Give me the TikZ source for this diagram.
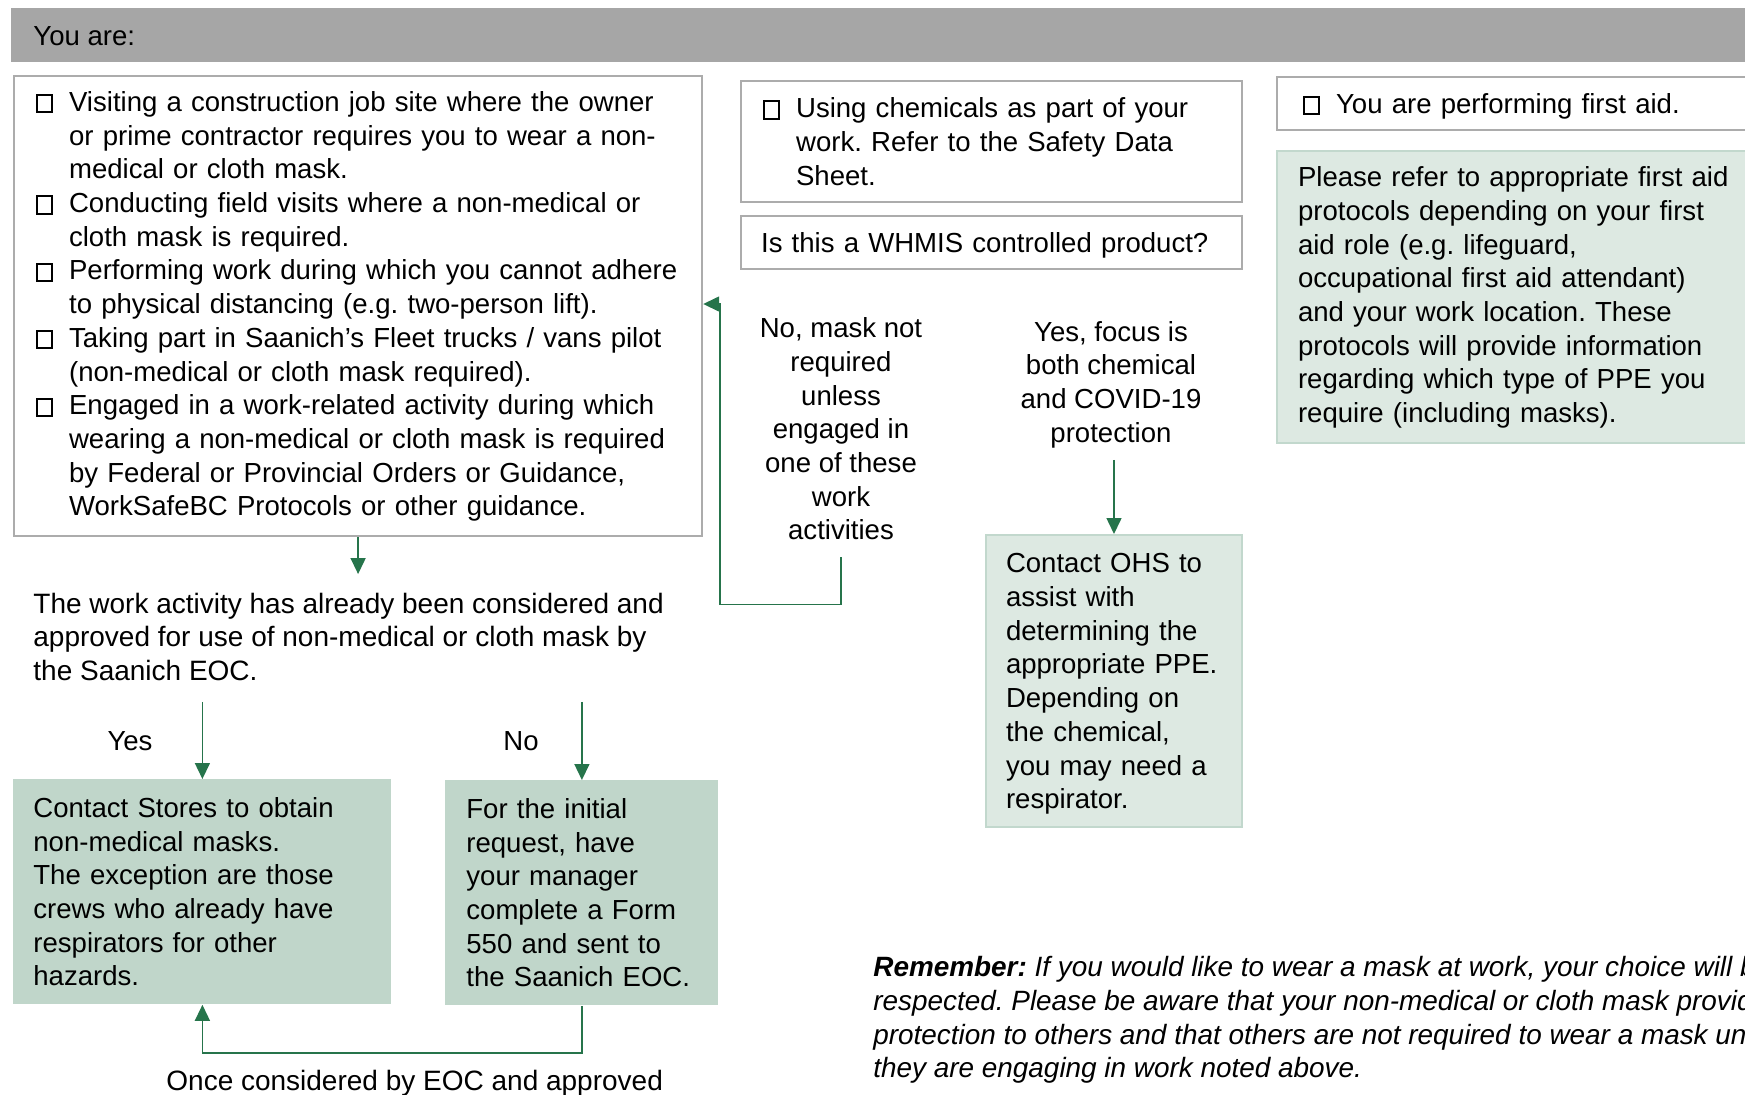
\documentclass[tikz,border=0pt]{standalone}
\usepackage{fontspec}
\setmainfont{Liberation Sans}
\usetikzlibrary{arrows.meta}
\frenchspacing

\definecolor{hdrgray}{RGB}{166,166,166}
\definecolor{boxgray}{RGB}{172,172,172}
\definecolor{arrowgreen}{RGB}{38,116,75}
\definecolor{sagegreen}{RGB}{192,214,202}
\definecolor{palegreen}{RGB}{221,233,226}
\definecolor{paleedge}{RGB}{194,216,205}

\newcommand{\chk}{{\setlength{\fboxrule}{1pt}\setlength{\fboxsep}{0pt}\fbox{\rule{0pt}{7.6pt}\rule{6.4pt}{0pt}}}}
\newcommand{\blocktext}[2][-1.5pt]{\raisebox{#1}[\height][\depth]{\begin{tabular}{@{}l@{}}#2\end{tabular}}}
\newcommand{\centerlines}[2][-1.5pt]{\raisebox{#1}[\height][\depth]{\begin{tabular}{@{}c@{}}#2\end{tabular}}}
\newcommand{\checklines}[2][-1.5pt]{\raisebox{#1}[\height][\depth]{\begin{tabular}{@{}p{16.5pt}@{}l@{}}#2\end{tabular}}}

\tikzset{
  every node/.style={font=\fontsize{13.78}{16.85}\selectfont, inner sep=0pt},
  bigtext/.style={font=\fontsize{14}{16.85}\selectfont},
  whitebox/.style={draw=boxgray, line width=1.1pt, anchor=north west, align=left},
  greenbox/.style={fill=sagegreen, anchor=north west, align=left},
  palebox/.style={draw=paleedge, line width=1pt, fill=palegreen, anchor=north west, align=left},
  arrow/.style={draw=arrowgreen, line width=0.75pt, -{Triangle[width=7.5pt,length=8pt]}},
}

\begin{document}
\begin{tikzpicture}[x=0.5pt, y=-0.5pt]
      \useasboundingbox (0,0) rectangle (1745,1094);
      \clip (0,0) rectangle (1745,1094);

      %en-tete
      \fill[hdrgray] (11,8) rectangle (1760,62);
      \node[anchor=west] (youare) at (33,36) {\blocktext{You are:}};

      %colonne gauche
      \node[whitebox, minimum width=344pt, minimum height=230pt, text width=322pt, inner xsep=11pt] (visiting) at (13,75) {\checklines[-0.4pt]{%
        \chk & Visiting a construction job site where the owner\\
             & or prime contractor requires you to wear a non-\\
             & medical or cloth mask.\\
        \chk & Conducting field visits where a non-medical or\\
             & cloth mask is required.\\
        \chk & Performing work during which you cannot adhere\\
             & to physical distancing (e.g. two-person lift).\\
        \chk & Taking part in Saanich’s Fleet trucks / vans pilot\\
             & (non-medical or cloth mask required).\\
        \chk & Engaged in a work-related activity during which\\
             & wearing a non-medical or cloth mask is required\\
             & by Federal or Provincial Orders or Guidance,\\
             & WorkSafeBC Protocols or other guidance.}};

      \node[bigtext, anchor=west] (approved) at (33,637) {\blocktext{The work activity has already been considered and\\approved for use of non-medical or cloth mask by\\the Saanich EOC.}};

      \node (yes) at (130,741) {\blocktext{Yes}};
      \node (no) at (521,741) {\blocktext{No}};

      \node[greenbox, minimum width=189pt, minimum height=112.5pt, text width=169pt, inner xsep=10pt] (stores) at (13,779) {\blocktext{Contact Stores to obtain\\non-medical masks.\\The exception are those\\crews who already have\\respirators for other\\hazards.}};
      \node[greenbox, minimum width=136.5pt, minimum height=112.5pt, text width=115.5pt, inner xsep=10.5pt] (form) at (445,780) {\blocktext{For the initial\\request, have\\your manager\\complete a Form\\550 and sent to\\the Saanich EOC.}};

      \node[bigtext, anchor=west] (once) at (166,1081) {\blocktext{Once considered by EOC and approved}};

      %fleches gauche
      \draw[arrow, shorten >=6pt] (visiting.south) -- (visiting.south |- approved.north);
      \draw[arrow, shorten <=7pt] (stores.north |- approved.south) -- (stores.north);
      \draw[arrow, shorten <=7pt] (form.north |- approved.south) -- (form.north);
      \draw[arrow] (form.south) -- ++(0,47) -| (stores.south);

      %colonne du milieu
      \node[whitebox, minimum width=250.5pt, minimum height=60.5pt, text width=228.5pt, inner xsep=11pt] (chem) at (740,80) {\checklines{%
        \chk & Using chemicals as part of your\\
             & work. Refer to the Safety Data\\
             & Sheet.}};
      \node[whitebox, minimum width=250.5pt, minimum height=26.5pt, text width=230.5pt, inner xsep=10pt] (whmis) at (740,215) {\blocktext{Is this a WHMIS controlled product?}};

      \node (nomask) at (841,429) {\centerlines{No, mask not\\required\\unless\\engaged in\\one of these\\work\\activities}};
      \node (focus) at (1111,382) {\centerlines{Yes, focus is\\both chemical\\and COVID-19\\protection}};

      \node[palebox, minimum width=128pt, minimum height=146pt, text width=108pt, inner xsep=10pt] (ohs) at (985,534) {\blocktext{Contact OHS to\\assist with\\determining the\\appropriate PPE.\\Depending on\\the chemical,\\you may need a\\respirator.}};

      \draw[arrow, shorten <=5pt] (nomask.south) -- ++(0,57) -| (720,304) -- (visiting.east |- 0,304);
      \draw[arrow, shorten <=5pt] (ohs.north |- focus.south) -- (ohs.north);

      %colonne droite
      \node[whitebox, minimum width=260pt, minimum height=26.5pt, text width=234pt, inner xsep=13pt] (firstaid) at (1276,76) {\checklines{\chk & You are performing first aid.}};
      \node[palebox, minimum width=260pt, minimum height=146pt, text width=239pt, inner xsep=10.5pt] (faguide) at (1276,150) {\blocktext[-0.4pt]{Please refer to appropriate first aid\\protocols depending on your first\\aid role (e.g. lifeguard,\\occupational first aid attendant)\\and your work location. These\\protocols will provide information\\regarding which type of PPE you\\require (including masks).}};

      %rappel
      \node[anchor=west, font=\fontsize{13.95}{16.85}\selectfont\itshape] (remember) at (873,1017.5) {\blocktext{\textbf{Remember:} If you would like to wear a mask at work, your choice will be\\respected. Please be aware that your non-medical or cloth mask provides\\protection to others and that others are not required to wear a mask unless\\they are engaging in work noted above.}};
\end{tikzpicture}
\end{document}
